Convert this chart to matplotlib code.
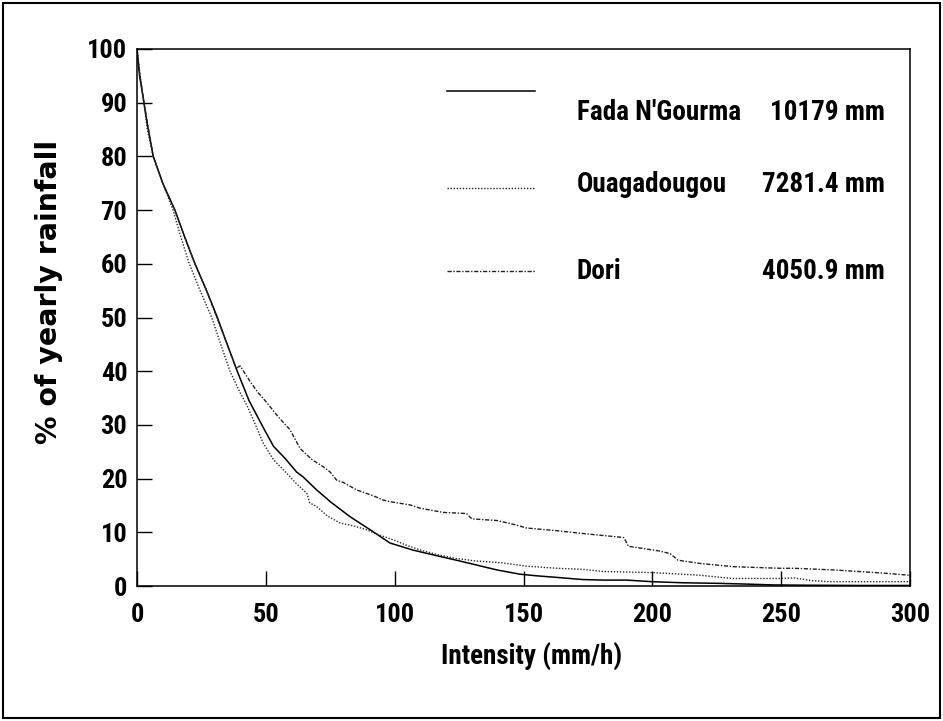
import matplotlib
matplotlib.use("Agg")
import matplotlib.pyplot as plt
from matplotlib.patches import Rectangle
from matplotlib import font_manager
from matplotlib.font_manager import FontProperties

# Cumulative share of yearly rainfall falling above a given intensity
fada_x = [0, 1, 2.7, 4, 6.3, 10, 14.7, 18.5, 22.5, 27, 31.2, 35, 38.9, 43.5, 49, 53,
          57.4, 62, 64.5, 69.7, 73.6, 75, 82.7, 90.4, 98.2, 107, 117.6, 124, 131.8,
          139.6, 148.6, 155, 163, 173, 181, 190, 200, 212, 225, 237, 247, 260, 280, 300]
fada_y = [100, 95, 90, 86, 80, 75, 70, 65, 60, 55, 50, 45, 40, 34.5, 29.5, 26,
          23.8, 21.2, 20.3, 17.9, 16.3, 15.7, 12.9, 10.5, 8.0, 6.7, 5.5, 4.8, 3.9,
          3.0, 2.2, 1.9, 1.6, 1.2, 1.1, 1.1, 0.8, 0.6, 0.5, 0.35, 0.2, 0.15, 0.1, 0.1]

ouaga_x = [0, 1.2, 2.7, 4, 6.3, 10, 14, 17, 20.3, 24.5, 29, 32.5, 36.1, 40, 42.6, 46,
           49, 53, 58.1, 62, 64.5, 66, 67, 69.7, 74, 79, 84, 89, 94, 99.5, 105, 110,
           117, 124, 128, 130.5, 142, 151, 163, 173, 181, 190, 200, 218.5, 231, 249.5,
           255, 262, 269, 285, 300]
ouaga_y = [100, 95, 90, 85, 80, 75, 70, 65, 60, 55, 50, 45, 40, 36, 33.7, 30,
           26.6, 23.5, 21, 19, 17.9, 17.2, 15.5, 14.8, 13, 11.7, 11.2, 10.5, 9.5, 8.6, 7.5, 6.7,
           5.8, 5.1, 4.9, 4.7, 4.3, 3.7, 3.3, 3.1, 2.7, 2.6, 2.5, 2.0, 1.4, 1.4,
           1.5, 1.0, 0.8, 0.8, 0.8]

dori_x = [0, 1.2, 2.7, 6.3, 10, 14.7, 18.5, 22.5, 27, 31, 35, 38.5, 40, 44, 47, 50.3,
          54.8, 59.4, 63.3, 68, 72, 75, 77.5, 80, 85.2, 91.7, 95.6, 98.2, 106, 109.8,
          118.9, 127.9, 129.9, 139.6, 146, 151.2, 162.9, 174.5, 187.4, 189, 190.7, 203,
          207, 210, 218.5, 231.4, 249.5, 255, 270, 280, 289.6, 300]
dori_y = [100, 95, 90, 80, 75, 70, 65, 60, 55, 50, 45, 40.5, 41, 38, 36, 34.2,
          31.5, 29.1, 25.6, 23.5, 22.3, 21.2, 19.7, 19.3, 17.9, 16.8, 16.0, 15.7, 15.1, 14.5,
          13.7, 13.5, 12.5, 12.2, 11.5, 10.8, 10.3, 9.7, 9.1, 9.0, 7.4, 6.5,
          6.0, 4.8, 4.2, 3.6, 3.3, 3.3, 3.0, 2.7, 2.4, 2.0]

stations = ["Fada N'Gourma", "Ouagadougou", "Dori"]
totals = ["10179 mm", "7281.4 mm", "4050.9 mm"]

x_ticks = [0, 50, 100, 150, 200, 250, 300]
y_ticks = [0, 10, 20, 30, 40, 50, 60, 70, 80, 90, 100]


def find_condensed_bold():
    """Return the file of a condensed bold sans face, if one is installed."""
    preferred = ["Roboto Condensed", "Liberation Sans Narrow", "Arial Narrow",
                 "DejaVu Sans Condensed", "DejaVu Sans", "Open Sans Condensed",
                 "Open Sans", "Noto Sans", "Roboto"]
    best = None
    for f in font_manager.fontManager.ttflist:
        stretch = str(f.stretch).lower()
        name = f.name
        is_cond = ("condensed" in stretch or "narrow" in stretch
                   or "Condensed" in name or "Narrow" in name)
        w = f.weight if isinstance(f.weight, int) else (700 if "bold" in str(f.weight).lower() else 400)
        if not is_cond or w < 600 or w > 800 or "italic" in str(f.style).lower() \
                or "oblique" in str(f.style).lower():
            continue
        rank = preferred.index(name) if name in preferred else len(preferred)
        if best is None or rank < best[0]:
            best = (rank, f.fname)
    return best[1] if best else None


cond_file = find_condensed_bold()
if cond_file:
    def narrow(size):
        return FontProperties(fname=cond_file, size=size)
    tick_size, legend_size, xlabel_size = 19, 19.5, 19.5
else:
    def narrow(size):
        return FontProperties(family=["Liberation Sans", "DejaVu Sans"],
                              weight="bold", size=size)
    tick_size, legend_size, xlabel_size = 16.5, 16.5, 16

styles = [
    dict(color="black", lw=1.1, ls="-"),
    dict(color="#2a2a2a", lw=1.0, ls=(0, (1.0, 1.2))),
    dict(color="#222222", lw=1.0, ls=(0, (3.0, 1.2, 1.0, 1.2))),
]

fig = plt.figure(figsize=(9.43, 7.21), dpi=100)
AX_L, AX_R, AX_T, AX_B = 137, 910, 49, 586
ax = fig.add_axes([AX_L / 943, 1 - AX_B / 721, (AX_R - AX_L) / 943, (AX_B - AX_T) / 721])

series = [(fada_x, fada_y), (ouaga_x, ouaga_y), (dori_x, dori_y)]
for (xs, ys), st in zip(series, styles):
    ax.plot(xs, ys, **st)

ax.set_xlim(0, 300)
ax.set_ylim(0, 100)
ax.set_xticks(x_ticks)
ax.set_yticks(y_ticks)
ax.tick_params(direction="in", length=11, width=1.0, colors="black",
               top=False, right=False, pad=7)
ax.tick_params(axis="x", pad=12)
for lab in ax.get_xticklabels() + ax.get_yticklabels():
    lab.set_fontproperties(narrow(tick_size))
for sp in ax.spines.values():
    sp.set_linewidth(1.1)

ax.set_xlabel("Intensity (mm/h)", fontproperties=narrow(xlabel_size))
ax.xaxis.set_label_coords((532 - AX_L) / (AX_R - AX_L), -(643 - AX_B) / (AX_B - AX_T))
ax.set_ylabel("% of yearly rainfall", family=["DejaVu Sans"], fontweight="bold",
              fontsize=20.5)
ax.yaxis.set_label_coords(-(AX_L - 63) / (AX_R - AX_L), (AX_B - 292) / (AX_B - AX_T))

# Legend drawn as sample lines with station names and rainfall totals
line_y = [91, 188, 271]
text_y = [113, 185, 271]
for st, ly, ty, name, tot in zip(styles, line_y, text_y, stations, totals):
    fig.add_artist(plt.Line2D([447 / 943, 535 / 943], [1 - ly / 721, 1 - ly / 721],
                              transform=fig.transFigure, **st))
    fig.text(577 / 943, 1 - ty / 721, name, ha="left", va="center",
             fontproperties=narrow(legend_size))
    fig.text(885 / 943, 1 - ty / 721, tot, ha="right", va="center",
             fontproperties=narrow(legend_size))

# Frame around the whole figure
fig.add_artist(Rectangle((3 / 943, 3 / 721), 937 / 943, 715 / 721,
                         transform=fig.transFigure, fill=False,
                         edgecolor="black", linewidth=1.5))

fig.savefig("out.png", dpi=100)
